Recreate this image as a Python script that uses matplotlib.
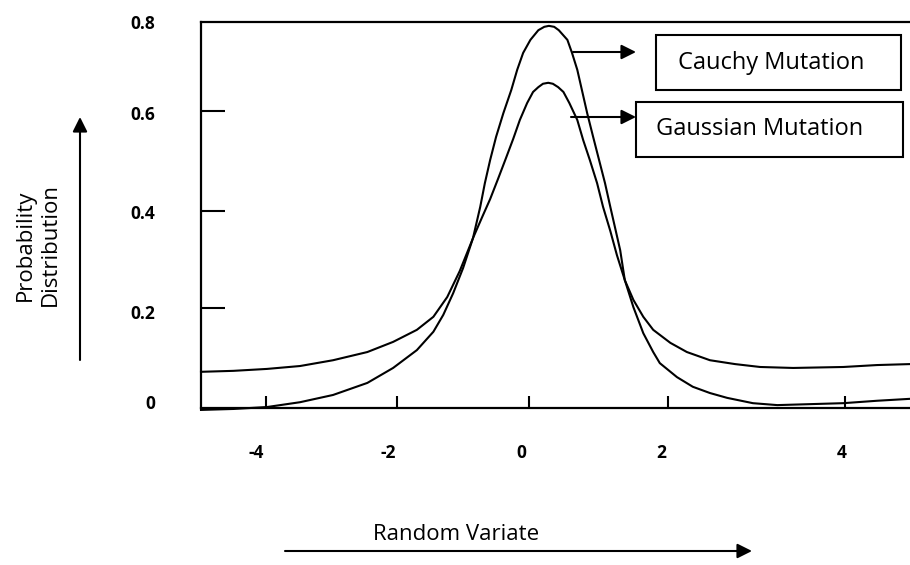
import matplotlib.pyplot as plt
from matplotlib.patches import Rectangle, FancyArrowPatch

# values (random variate, probability)
variate_gauss = [-4.97, -4.48, -3.97, -3.47, -2.97, -2.45, -2.06, -1.70, -1.45, -1.24,
                 -1.05, -0.85, -0.71, -0.59, -0.47, -0.35, -0.24, -0.14, -0.03, 0.06,
                 0.14, 0.21, 0.29, 0.36, 0.44, 0.52, 0.61, 0.73, 0.82, 0.92,
                 1.03, 1.12, 1.23, 1.33, 1.45, 1.58, 1.73, 1.88, 2.14, 2.39,
                 2.74, 3.12, 3.50, 4.00, 4.76, 5.27, 5.77]
gauss_curve = [0.075, 0.077, 0.081, 0.087, 0.099, 0.116, 0.137, 0.162, 0.189, 0.230,
               0.284, 0.352, 0.396, 0.433, 0.475, 0.518, 0.558, 0.597, 0.632, 0.655,
               0.665, 0.672, 0.674, 0.672, 0.665, 0.655, 0.632, 0.597, 0.555, 0.514,
               0.466, 0.417, 0.367, 0.317, 0.265, 0.224, 0.189, 0.162, 0.135, 0.116,
               0.099, 0.091, 0.085, 0.083, 0.085, 0.089, 0.091]

variate_cauchy = [-4.97, -4.48, -3.97, -3.47, -2.97, -2.45, -2.06, -1.70, -1.45, -1.30,
                  -1.15, -1.00, -0.85, -0.74, -0.67, -0.59, -0.50, -0.39, -0.27, -0.18,
                  -0.09, 0.02, 0.14, 0.23, 0.30, 0.38, 0.45, 0.58, 0.65, 0.73,
                  0.80, 0.88, 0.97, 1.06, 1.15, 1.23, 1.30, 1.38, 1.45, 1.58,
                  1.73, 1.88, 1.98, 2.24, 2.48, 2.74, 3.00, 3.39, 3.76, 4.26,
                  4.76, 5.27, 5.77]
cauchy_curve = [-0.004, -0.002, 0.002, 0.012, 0.027, 0.052, 0.083, 0.120, 0.158, 0.193,
                0.238, 0.290, 0.352, 0.417, 0.466, 0.514, 0.562, 0.611, 0.659, 0.701,
                0.736, 0.763, 0.783, 0.790, 0.792, 0.790, 0.783, 0.763, 0.736, 0.701,
                0.659, 0.611, 0.562, 0.514, 0.466, 0.417, 0.375, 0.327, 0.265, 0.209,
                0.155, 0.116, 0.093, 0.064, 0.044, 0.031, 0.021, 0.010, 0.006, 0.008,
                0.010, 0.015, 0.019]

# hand drawn axis: marks and labels do not line up exactly
x_marks = [-3.98, -2.0, 0.0, 2.11, 4.79]
x_label_pos = [-4.14, -2.14, -0.12, 2.0, 4.74]
x_labels = ['-4', '-2', '0', '2', '4']
y_marks = [0.207, 0.408, 0.616]
y_label_pos = [0.012, 0.199, 0.406, 0.611, 0.8]
y_labels = ['0', '0.2', '0.4', '0.6', '0.8']

W, H = 910, 565
plt.rcParams['font.family'] = ['Open Sans', 'DejaVu Sans']


def fx(px):
    return px / W


def fy(py):
    return 1 - py / H


def arrow(fig, x0, y0, x1, y1):
    fig.add_artist(FancyArrowPatch(
        (fx(x0), fy(y0)), (fx(x1), fy(y1)), transform=fig.transFigure,
        arrowstyle='-|>', mutation_scale=22, lw=1.5, color='black',
        shrinkA=0, shrinkB=0))


fig = plt.figure(figsize=(W / 100, H / 100), dpi=100)
ax = fig.add_axes([fx(201), fy(408), fx(910) - fx(201), fy(22) - fy(408)])

ax.plot(variate_gauss, gauss_curve, color='black', lw=1.5, clip_on=False)
ax.plot(variate_cauchy, cauchy_curve, color='black', lw=1.5, clip_on=False)

ax.set_xlim(-4.97, 5.77)
ax.set_ylim(0, 0.8)
ax.spines['right'].set_visible(False)
for s in ['left', 'top', 'bottom']:
    ax.spines[s].set_linewidth(1.6)

ax.set_xticks(x_label_pos)
ax.set_xticklabels(x_labels, fontweight='bold', fontsize=12.5)
ax.set_xticks(x_marks, minor=True)
ax.set_yticks(y_label_pos)
ax.set_yticklabels(y_labels, fontweight='bold', fontsize=12.5)
ax.set_yticks(y_marks, minor=True)
ax.tick_params(which='major', length=0)
ax.tick_params(axis='x', which='major', pad=26)
ax.tick_params(axis='y', which='major', pad=33)
ax.tick_params(axis='x', which='minor', direction='in', length=9, width=1.5)
ax.tick_params(axis='y', which='minor', direction='in', length=17, width=1.5)

# axis captions with arrows
fig.text(fx(38), fy(245), 'Probability\nDistribution', rotation=90,
         ha='center', va='center', fontsize=16, linespacing=1.25,
         multialignment='center')
arrow(fig, 80, 360, 80, 117)
fig.text(fx(456), fy(535), 'Random Variate', ha='center', va='center', fontsize=16)
arrow(fig, 285, 551, 752, 551)

# legend boxes with pointer arrows
fig.add_artist(Rectangle((fx(656), fy(90)), fx(901) - fx(656), fy(35) - fy(90),
                         transform=fig.transFigure, fill=False, lw=1.5))
fig.text(fx(771), fy(63), 'Cauchy Mutation', ha='center', va='center', fontsize=17)
arrow(fig, 573, 52, 636, 52)

fig.add_artist(Rectangle((fx(636), fy(157)), fx(903) - fx(636), fy(102) - fy(157),
                         transform=fig.transFigure, fill=False, lw=1.5))
fig.text(fx(760), fy(129), 'Gaussian Mutation', ha='center', va='center', fontsize=17)
arrow(fig, 571, 117, 636, 117)

fig.savefig('out.png', dpi=100)
